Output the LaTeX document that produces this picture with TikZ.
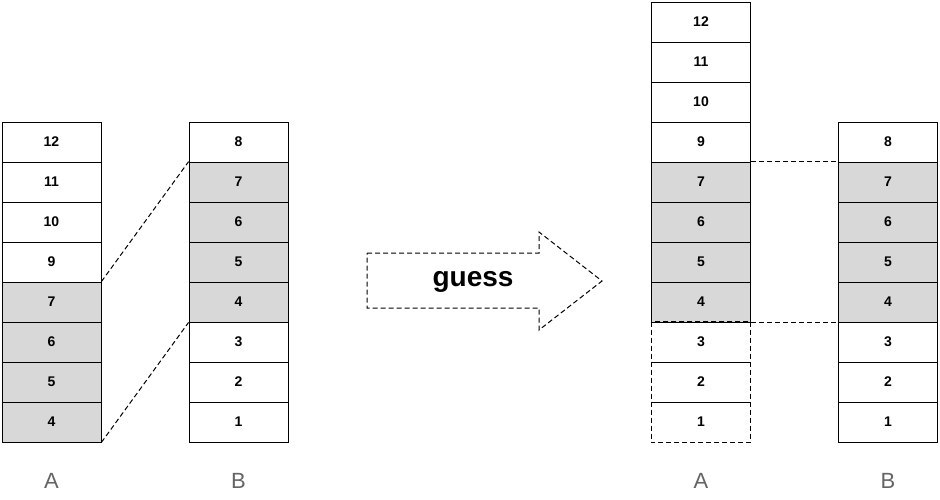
\documentclass[tikz,border=0pt]{standalone}
\usepackage{fontspec}
\setmainfont{Liberation Sans}
\usetikzlibrary{positioning}
\definecolor{blockgray}{RGB}{216,216,216}
\definecolor{labelgray}{RGB}{100,100,100}
\tikzset{
  cell/.style={draw, line width=0.8pt, minimum width=99pt, minimum height=40pt, inner sep=0pt, font=\fontsize{14}{14}\selectfont\bfseries},
  hit/.style={cell, fill=blockgray},
  guesscell/.style={cell, draw=none},
  dashline/.style={dash pattern=on 5pt off 3pt, line width=1pt},
  stacklabel/.style={text=labelgray, font=\fontsize{22}{22}\selectfont}
}
\begin{document}
\begin{tikzpicture}[x=1pt,y=-1pt]
        \useasboundingbox (0,0) rectangle (940,499);
        %LEFT A
        \foreach \n [count=\i] in {12,11,10,9} \node[cell] (a\n) at (51.5,102+40*\i) {\n};
        \foreach \n [count=\i] in {7,6,5,4} \node[hit] (a\n) at (51.5,262+40*\i) {\n};
        %LEFT B
        \node[cell] (b8) at (238.5,142) {8};
        \foreach \n [count=\i] in {7,6,5,4} \node[hit] (b\n) at (238.5,142+40*\i) {\n};
        \foreach \n [count=\i] in {3,2,1} \node[cell] (b\n) at (238.5,302+40*\i) {\n};
        \draw[dashline] (a7.north east) -- (b7.north west);
        \draw[dashline] (a4.south east) -- (b4.south west);
        %ARROW
        \draw[dashline] (367,253) -- (539,253) -- (539,232) -- (602,281) -- (539,330) -- (539,308) -- (367,308) -- cycle;
        \node[font=\fontsize{28}{28}\selectfont\bfseries] (guess) at (473,282) {guess};
        %RIGHT A
        \foreach \n [count=\i] in {12,11,10,9} \node[cell] (ra\n) at (701,-18+40*\i) {\n};
        \foreach \n [count=\i] in {7,6,5,4} \node[hit] (ra\n) at (701,142+40*\i) {\n};
        \foreach \n [count=\i] in {3,2,1} \node[guesscell] (ra\n) at (701,302+40*\i) {\n};
        \draw[dashline] (ra3.north west) rectangle (ra1.south east);
        \draw[line width=0.8pt] (ra3.south west) -- (ra3.south east);
        \draw[line width=0.8pt] (ra2.south west) -- (ra2.south east);
        %RIGHT B
        \node[cell] (rb8) at (888,142) {8};
        \foreach \n [count=\i] in {7,6,5,4} \node[hit] (rb\n) at (888,142+40*\i) {\n};
        \foreach \n [count=\i] in {3,2,1} \node[cell] (rb\n) at (888,302+40*\i) {\n};
        \draw[dashline] (ra7.north east) -- (rb7.north west);
        \draw[dashline] (ra4.south east) -- (rb4.south west);
        %LABELS
        \node[stacklabel] (la) at (51.5,481) {A};
        \node[stacklabel] (lb) at (238.5,481) {B};
        \node[stacklabel] (lra) at (701,481) {A};
        \node[stacklabel] (lrb) at (888,481) {B};
\end{tikzpicture}
\end{document}
